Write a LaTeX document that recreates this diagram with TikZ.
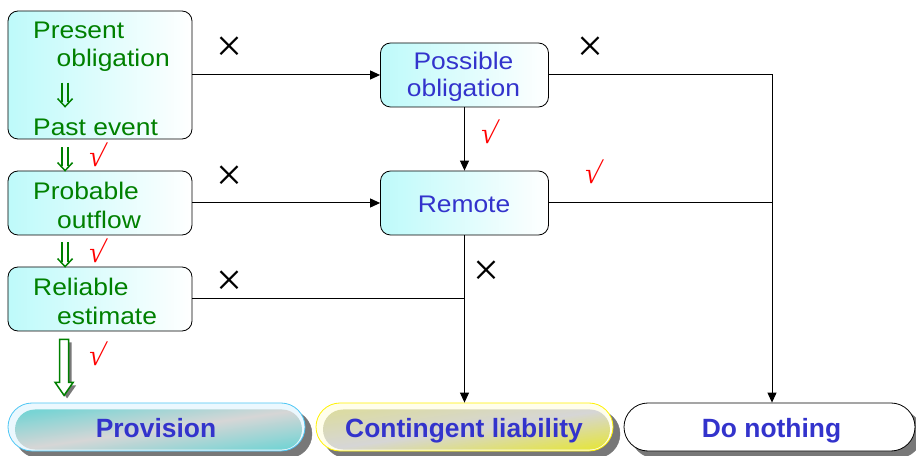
\documentclass[tikz,border=0pt]{standalone}
\usepackage{fontspec}
\setmainfont{Liberation Sans}
\newfontfamily\symserif{Liberation Serif}[FakeSlant=0.2]
\newfontfamily\crossfont{Liberation Serif}
\usetikzlibrary{arrows.meta,calc,shapes.misc}
\definecolor{tgreen}{RGB}{0,128,0}
\definecolor{tblue}{RGB}{51,51,204}
\definecolor{tred}{RGB}{255,0,0}
\definecolor{boxcyan}{RGB}{190,250,250}
\definecolor{pteal}{RGB}{120,212,212}
\definecolor{pgray}{RGB}{214,214,214}
\definecolor{pyel}{RGB}{228,228,70}
\definecolor{shadowgray}{RGB}{120,120,120}
\newcommand\gfont{\fontsize{24bp}{28bp}\selectfont\addfontfeatures{FakeStretch=1.1}}
\newcommand\dblarrow[2]{%
  \draw[gdbl] ($(#1)+(-3,0)$) -- ($(#2)+(-3,-4.8)$);
  \draw[gdbl] ($(#1)+(3,0)$) -- ($(#2)+(3,-4.8)$);
  \draw[gdbl] ($(#2)+(-7.5,-8)$) -- (#2) -- ($(#2)+(7.5,-8)$);}
\tikzset{
  box/.style={draw=black, line width=0.8bp, rounded corners=10bp, left color=boxcyan, right color=white, inner sep=0pt},
  gtext/.style={text=tgreen, font=\gfont, inner sep=0pt, anchor=base west},
  btext/.style={text=tblue, font=\gfont, inner sep=0pt, anchor=base},
  ptext/.style={text=tblue, font=\fontsize{26.4bp}{30bp}\selectfont\bfseries, inner sep=0pt, anchor=base},
  conn/.style={draw=black, line width=1bp},
  arr/.style={conn, -{Triangle[length=10bp,width=9bp]}},
  cross/.style={font=\fontsize{46bp}{46bp}\selectfont\crossfont, inner sep=0pt},
  tick/.style={text=tred, font=\fontsize{30bp}{30bp}\selectfont\symserif, inner sep=0pt},
  gdbl/.style={draw=tgreen, line width=1.5bp},
  pillout/.style={rounded rectangle, minimum width=297bp, minimum height=48bp, inner sep=0pt, line width=0.8bp},
  pillshad/.style={rounded rectangle, minimum width=297bp, minimum height=48bp, inner sep=0pt, fill=shadowgray, draw=shadowgray},
  pillin/.style={rounded rectangle, minimum width=287bp, minimum height=40bp, inner sep=0pt, draw=none},
}
\begin{document}
\begin{tikzpicture}[x=1bp,y=-1bp]
\useasboundingbox (0,0) rectangle (916,456);
% left boxes
\node[box, minimum width=184bp, minimum height=128bp] (po) at (100,75) {};
\node[box, minimum width=184bp, minimum height=64bp] (prob) at (100,203) {};
\node[box, minimum width=184bp, minimum height=64bp] (rel) at (100,299) {};
% middle boxes
\node[box, minimum width=168bp, minimum height=64bp] (pob) at (464.5,75) {};
\node[box, minimum width=168bp, minimum height=64bp] (rem) at (464.5,203) {};
% texts
\node[gtext] (t1) at (33,39) {Present};
\node[gtext] (t2) at (56.5,67) {obligation};
\node[gtext] (t3) at (33,136) {Past event};
\node[gtext] (t4) at (33,199.3) {Probable};
\node[gtext] (t5) at (57,228.3) {outflow};
\node[gtext] (t6) at (33,296) {Reliable};
\node[gtext] (t7) at (57,325) {estimate};
\node[btext] (t8) at (463.5,69.3) {Possible};
\node[btext] (t9) at (463.5,96.7) {obligation};
\node[btext] (t10) at (464,212.7) {Remote};
% bottom pills: shadows
\node[pillshad] (pvs) at (163.5,434) {};
\node[pillshad] (cls) at (471.5,434) {};
\node[pillshad, minimum width=291bp] (dns) at (776.5,434) {};
% bottom pills
\node[pillout, draw=cyan!70, fill=cyan!8] (pv) at (156.5,427) {};
\node[pillout, draw=yellow, fill=yellow!8] (cl) at (464.5,427) {};
\node[pillout, draw=black, fill=white, minimum width=291bp] (dn) at (769.5,427) {};
\node[pillin, top color=pteal, bottom color=pteal, middle color=pgray, shading angle=8] (pvin) at (158.5,429.5) {};
\node[pillin, top color=pyel!35!pgray, bottom color=pyel, middle color=pgray, shading angle=8] (clin) at (466.5,429.5) {};
\node[ptext] (t11) at (156,437) {Provision};
\node[ptext] (t12) at (464,437) {Contingent liability};
\node[ptext] (t13) at (771.5,437) {Do nothing};
% black connectors
\coordinate (dnin) at ($(dn.north)+(2.5,0)$);
\draw[arr] (po.east) -- (pob.west);
\draw[arr] (pob.east) -| (dnin);
\draw[arr] (pob.south) -- (rem.north);
\draw[arr] (prob.east) -- (rem.west);
\draw[conn] (rem.east) -- (rem.east -| dnin);
\draw[arr] (rem.south) -- (cl.north);
\draw[conn] (rel.east) -- (rel.east -| rem.south);
% green double arrows
\coordinate (d1a) at ($(po.north west)+(57.5,72)$);
\coordinate (d1b) at ($(po.north west)+(57.5,96)$);
\coordinate (d2a) at ($(po.south west)+(57.5,8)$);
\coordinate (d2b) at ($(prob.north west)+(57.5,0)$);
\coordinate (d3a) at ($(prob.south west)+(57.5,7)$);
\coordinate (d3b) at ($(rel.north west)+(57.5,0)$);
\dblarrow{d1a}{d1b}
\dblarrow{d2a}{d2b}
\dblarrow{d3a}{d3b}
% big hollow arrow
\coordinate (ha) at ($(rel.south west)+(56.5,8)$);
\coordinate (hs) at ($(rel.south west)+(59.5,11)$);
\fill[shadowgray] ($(hs)+(-4.5,0)$) -- ($(hs)+(4.5,0)$) -- ($(hs)+(4.5,43)$) -- ($(hs)+(9,43)$) -- ($(hs)+(0,56)$) -- ($(hs)+(-9,43)$) -- ($(hs)+(-4.5,43)$) -- cycle;
\filldraw[draw=tgreen, fill=white, line width=1.5bp] ($(ha)+(-4.5,0)$) -- ($(ha)+(4.5,0)$) -- ($(ha)+(4.5,43)$) -- ($(ha)+(9,43)$) -- ($(ha)+(0,56)$) -- ($(ha)+(-9,43)$) -- ($(ha)+(-4.5,43)$) -- cycle;
% crosses
\node[cross] (x1) at (229,49) {×};
\node[cross] (x2) at (590,49) {×};
\node[cross] (x3) at (229,178) {×};
\node[cross] (x4) at (229,283) {×};
\node[cross] (x5) at (486,273) {×};
% ticks
\node[tick] (v1) at (487,132) {√};
\node[tick] (v2) at (591,172) {√};
\node[tick] (v3) at (95,155) {√};
\node[tick] (v4) at (95,251) {√};
\node[tick] (v5) at (95,354) {√};
\end{tikzpicture}
\end{document}
